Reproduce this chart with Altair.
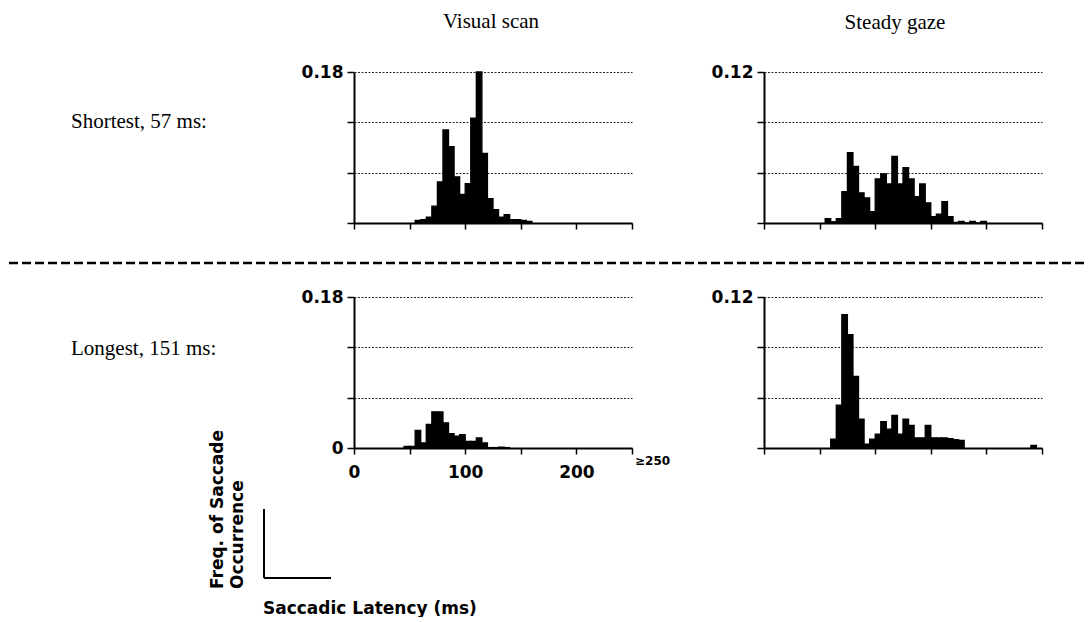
import altair as alt
import pandas as pd

BIN = 5
x_ticks = [0, 50, 100, 150, 200, 250]

# Visual scan, shortest (57 ms)
tl_start = [55, 60, 65, 70, 75, 80, 85, 90, 95, 100, 105, 110, 115, 120, 125, 130, 135, 140, 145, 150, 155]
tl_freq = [0.003, 0.004, 0.007, 0.020, 0.049, 0.111, 0.091, 0.055, 0.034, 0.047, 0.125, 0.180,
           0.083, 0.029, 0.016, 0.007, 0.010, 0.004, 0.004, 0.003, 0.002]

# Steady gaze, shortest (57 ms)
tr_start = [55, 60, 65, 70, 75, 80, 85, 90, 95, 100, 105, 110, 115, 120, 125, 130, 135, 140,
            145, 150, 155, 160, 165, 170, 175, 180, 185, 190, 195]
tr_freq = [0.0035, 0.001, 0.0035, 0.025, 0.056, 0.045, 0.024, 0.020, 0.009, 0.035, 0.039, 0.031,
           0.053, 0.031, 0.044, 0.035, 0.021, 0.031, 0.016, 0.005, 0.007, 0.017, 0.005, 0.0005,
           0.0013, 0.0, 0.0013, 0.0, 0.0013]

# Visual scan, longest (151 ms)
bl_start = [45, 50, 55, 60, 65, 70, 75, 80, 85, 90, 95, 100, 105, 110, 115, 120, 125, 130, 135]
bl_freq = [0.002, 0.002, 0.021, 0.006, 0.028, 0.043, 0.043, 0.030, 0.017, 0.014, 0.016, 0.008,
           0.008, 0.012, 0.006, 0.0005, 0.0005, 0.001, 0.0005]

# Steady gaze, longest (151 ms)
br_start = [60, 65, 70, 75, 80, 85, 90, 95, 100, 105, 110, 115, 120, 125, 130, 135, 140, 145,
            150, 155, 160, 165, 170, 175, 240]
br_freq = [0.007, 0.034, 0.106, 0.090, 0.057, 0.023, 0.003, 0.007, 0.011, 0.021, 0.015, 0.026,
           0.011, 0.023, 0.018, 0.008, 0.008, 0.018, 0.008, 0.008, 0.008, 0.0075, 0.0066, 0.006,
           0.002]

W, H = 278, 151
SANS = "DejaVu Sans"
SERIF = "Liberation Serif"


def text_layer(txt, x, y, font=SERIF, size=21, weight="normal", align="left",
               baseline="alphabetic", angle=0):
    return alt.Chart(pd.DataFrame({"t": [txt]})).mark_text(
        font=font, fontSize=size, fontWeight=weight, align=align, baseline=baseline,
        angle=angle, color="black"
    ).encode(x=alt.value(x), y=alt.value(y), text="t:N")


def rule_layer(x, x2, y, y2=None, width=2, dash=None, color="black"):
    kw = dict(color=color, strokeWidth=width)
    if dash is not None:
        kw["strokeDash"] = dash
    enc = dict(x=alt.value(x), x2=alt.value(x2), y=alt.value(y))
    if y2 is not None:
        enc["y2"] = alt.value(y2)
    return alt.Chart(pd.DataFrame({"a": [0]})).mark_rule(**kw).encode(**enc)


def panel(start, freq, ymax, yvals, ylabel_expr, xlabels, extras):
    df = pd.DataFrame({"start": start, "end": [s + BIN for s in start], "freq": freq})
    if xlabels:
        xaxis = alt.Axis(values=x_ticks, grid=False, domainColor="black", domainWidth=2,
                         tickColor="black", tickSize=6, tickWidth=1.5, labelFlush=False,
                         labelExpr="(datum.value % 100 == 0 && datum.value < 250) ? datum.label : ''",
                         labelFont=SANS, labelFontWeight="bold", labelFontSize=17,
                         labelColor="black", labelPadding=10, title=None)
    else:
        xaxis = alt.Axis(values=x_ticks, grid=False, domainColor="black", domainWidth=2,
                         tickColor="black", tickSize=6, tickWidth=1.5, labels=False, title=None)
    yaxis = alt.Axis(values=yvals, grid=True, gridColor="black", gridDash=[2, 1.5],
                     gridWidth=1, gridOpacity=0.85, domainColor="black", domainWidth=2,
                     tickColor="black", tickSize=7, tickWidth=1.5, labelExpr=ylabel_expr,
                     labelFont=SANS, labelFontWeight="bold", labelFontSize=17,
                     labelColor="black", labelPadding=4, labelFlush=False, title=None)
    bars = alt.Chart(df).mark_rect(color="black", stroke="black", strokeWidth=1.3).encode(
        x=alt.X("start:Q", scale=alt.Scale(domain=[0, 250], nice=False, zero=True), axis=xaxis),
        x2="end:Q",
        y=alt.Y("freq:Q", scale=alt.Scale(domain=[0, ymax], nice=False), axis=yaxis),
        y2=alt.datum(0),
    )
    return alt.layer(bars, *extras).properties(width=W, height=H)


left_y = [0, 0.06, 0.12, 0.18]
right_y = [0, 0.04, 0.08, 0.12]

tl = panel(tl_start, tl_freq, 0.18, left_y, "datum.value == 0.18 ? '0.18' : ''", False, [
    rule_layer(-353, -352, -71, width=0.2, color="white"),
    text_layer("Visual scan", 137, -44, align="center"),
    text_layer("Shortest, 57 ms:", -283, 56),
    rule_layer(-345, 732, 191, width=2.5, dash=[9, 4]),
])
tr = panel(tr_start, tr_freq, 0.12, right_y, "datum.value == 0.12 ? '0.12' : ''", False, [
    text_layer("Steady gaze", 131, -43, align="center"),
])
bl = panel(bl_start, bl_freq, 0.18, left_y,
           "datum.value == 0.18 ? '0.18' : (datum.value == 0 ? '0' : '')", True, [
    text_layer("Longest, 151 ms:", -283, 58),
    text_layer("\u2265250", 281, 164, font=SANS, size=12, weight="bold", baseline="middle"),
    rule_layer(-90, -90, 212, 281, width=2),
    rule_layer(-90, -23, 281, width=2),
    text_layer("Freq. of Saccade", -131, 292, font=SANS, size=17, weight="bold", angle=270),
    text_layer("Occurrence", -111, 292, font=SANS, size=17, weight="bold", angle=270),
    text_layer("Saccadic Latency (ms)", -91, 317, font=SANS, size=17, weight="bold"),
])
br = panel(br_start, br_freq, 0.12, right_y, "datum.value == 0.12 ? '0.12' : ''", False, [])

chart = alt.concat(
    tl, tr, bl, br, columns=2, spacing={"row": 74, "column": 132}, bounds="flush"
).properties(padding=0, background="white").configure_view(strokeWidth=0)

chart.save("out.html", embed_options={"renderer": "svg", "actions": False})
